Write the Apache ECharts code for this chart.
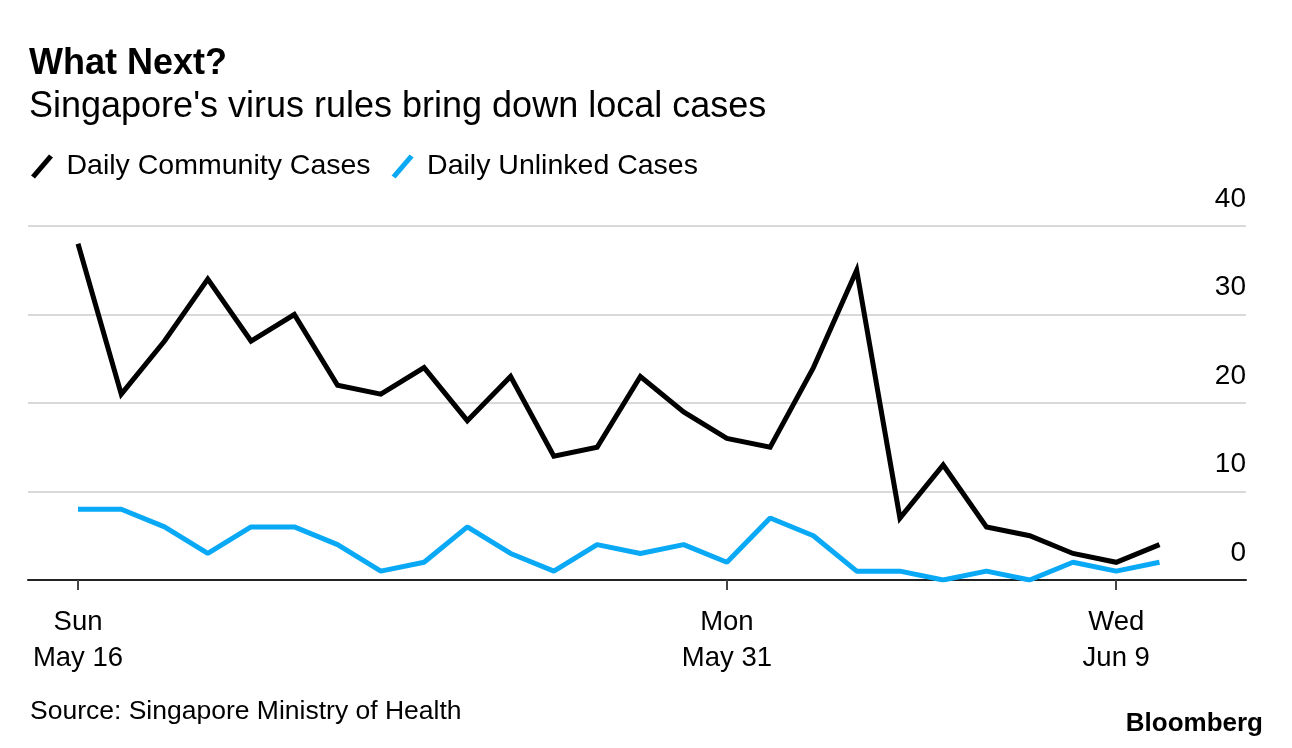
<!DOCTYPE html>
<html>
<head>
<meta charset="utf-8">
<script src="https://cdn.jsdelivr.net/npm/echarts@6/dist/echarts.min.js"></script>
<style>
html,body{margin:0;padding:0;background:#fff;}
#chart{width:1292px;height:748px;}
</style>
</head>
<body>
<div id="chart"></div>
<script>
// Dates (May 16 .. Jun 10, 2021)
var dates = ['May 16','May 17','May 18','May 19','May 20','May 21','May 22','May 23','May 24','May 25','May 26','May 27','May 28','May 29','May 30','May 31','Jun 1','Jun 2','Jun 3','Jun 4','Jun 5','Jun 6','Jun 7','Jun 8','Jun 9','Jun 10'];
var community = [38,21,27,34,27,30,22,21,24,18,23,14,15,23,19,16,15,24,35,7,13,6,5,3,2,4];
var unlinked  = [8,8,6,3,6,6,4,1,2,6,3,1,4,3,4,2,7,5,1,1,0,1,0,2,1,2];
var tickIndex = [0,15,24];
var tickLabels = {0:'Sun\nMay 16', 15:'Mon\nMay 31', 24:'Wed\nJun 9'};
var yTicks = [0,10,20,30,40];

var FONT = '"Liberation Sans", Arial, sans-serif';
function pairs(arr){ return arr.map(function(v,i){ return [i,v]; }); }

var chart = echarts.init(document.getElementById('chart'));
chart.setOption({
  backgroundColor:'#fff',
  animation:false,
  textStyle:{fontFamily:FONT},
  title:[
    {text:'What Next?', left:24, top:41, textStyle:{fontFamily:FONT, fontSize:36, fontWeight:'bold', color:'#000'}},
    {text:"Singapore's virus rules bring down local cases", left:24, top:84, textStyle:{fontFamily:FONT, fontSize:36, fontWeight:'normal', color:'#000'}},
    {text:'Source: Singapore Ministry of Health', left:25, top:693, textStyle:{fontFamily:FONT, fontSize:26.5, fontWeight:'normal', color:'#000'}},
    {text:'Bloomberg', right:24, top:706, textStyle:{fontFamily:FONT, fontSize:26, fontWeight:'bold', color:'#000'}}
  ],
  legend:{
    left:26, top:147, itemGap:21, itemWidth:23, itemHeight:24,
    icon:'path://M0,21 L4,24 L22,3 L18,0 Z',
    textStyle:{fontFamily:FONT, fontSize:28.5, color:'#000', padding:[0,0,0,8]},
    data:['Daily Community Cases','Daily Unlinked Cases']
  },
  grid:{left:28, right:46, top:226, bottom:168, containLabel:false},
  xAxis:{
    type:'value', min:-1.156, max:27,
    splitLine:{show:false},
    axisLine:{show:true, lineStyle:{color:'#222', width:2}},
    axisTick:{show:true, customValues:tickIndex, length:10, lineStyle:{color:'#444', width:2}},
    axisLabel:{show:true, customValues:tickIndex, margin:24, fontFamily:FONT, fontSize:27.5, lineHeight:36, color:'#000',
      formatter:function(v){ return tickLabels[Math.round(v)] || ''; }}
  },
  yAxis:{
    type:'value', position:'right', min:0, max:40, interval:10,
    axisLine:{show:false}, axisTick:{show:false},
    splitLine:{show:true, lineStyle:{color:'#d9d9d9', width:2}},
    axisLabel:{inside:true, margin:0, fontFamily:FONT, fontSize:28, color:'#000', verticalAlign:'bottom', padding:[0,0,13,0],
      formatter:function(v){ return yTicks.indexOf(v) >= 0 ? String(v) : ''; }}
  },
  series:[
    {name:'Daily Community Cases', type:'line', data:pairs(community), showSymbol:false, symbol:'none',
      itemStyle:{color:'#000'}, lineStyle:{color:'#000', width:5, join:'miter'}, z:3},
    {name:'Daily Unlinked Cases', type:'line', data:pairs(unlinked), showSymbol:false, symbol:'none',
      itemStyle:{color:'#0aa9f6'}, lineStyle:{color:'#0aa9f6', width:5}, z:2}
  ]
});
</script>
</body>
</html>
